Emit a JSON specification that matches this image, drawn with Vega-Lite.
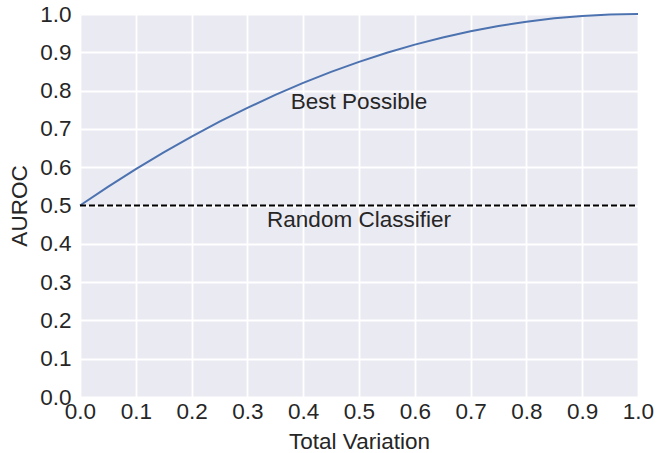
{
  "$schema": "https://vega.github.io/schema/vega-lite/v6.json",
  "width": 558,
  "height": 383,
  "autosize": {"type": "none"},
  "padding": {"left": 80, "top": 14, "right": 31, "bottom": 56},
  "background": "white",
  "config": {
    "view": {"fill": "#EAEAF2", "stroke": null},
    "font": "Liberation Sans",
    "axis": {
      "domain": false,
      "ticks": false,
      "grid": true,
      "gridColor": "white",
      "gridWidth": 1.8,
      "labelFont": "Liberation Sans",
      "labelFontSize": 22.5,
      "labelColor": "#262626",
      "labelOverlap": false,
      "titleFont": "Liberation Sans",
      "titleFontSize": 22.5,
      "titleFontWeight": "normal",
      "titleColor": "#262626"
    }
  },
  "datasets": {
    "curve": [
      {"tv": 0.0, "auroc": 0.5},
      {"tv": 0.05, "auroc": 0.54875},
      {"tv": 0.1, "auroc": 0.595},
      {"tv": 0.15, "auroc": 0.63875},
      {"tv": 0.2, "auroc": 0.68},
      {"tv": 0.25, "auroc": 0.71875},
      {"tv": 0.3, "auroc": 0.755},
      {"tv": 0.35, "auroc": 0.78875},
      {"tv": 0.4, "auroc": 0.82},
      {"tv": 0.45, "auroc": 0.84875},
      {"tv": 0.5, "auroc": 0.875},
      {"tv": 0.55, "auroc": 0.89875},
      {"tv": 0.6, "auroc": 0.92},
      {"tv": 0.65, "auroc": 0.93875},
      {"tv": 0.7, "auroc": 0.955},
      {"tv": 0.75, "auroc": 0.96875},
      {"tv": 0.8, "auroc": 0.98},
      {"tv": 0.85, "auroc": 0.98875},
      {"tv": 0.9, "auroc": 0.995},
      {"tv": 0.95, "auroc": 0.99875},
      {"tv": 1.0, "auroc": 1.0}
    ],
    "random": [
      {"tv": 0.0, "auroc": 0.5},
      {"tv": 1.0, "auroc": 0.5}
    ],
    "labels": [
      {"tv": 0.5, "auroc": 0.77, "text": "Best Possible"},
      {"tv": 0.5, "auroc": 0.462, "text": "Random Classifier"}
    ]
  },
  "encoding": {
    "x": {
      "field": "tv", "type": "quantitative",
      "scale": {"domain": [0, 1], "nice": false},
      "axis": {"title": "Total Variation", "values": [0, 0.1, 0.2, 0.3, 0.4, 0.5, 0.6, 0.7, 0.8, 0.9, 1.0], "tickCount": 11, "format": ".1f", "labelPadding": 3, "titlePadding": 8, "labelFlush": false, "labelOverlap": false}
    },
    "y": {
      "field": "auroc", "type": "quantitative",
      "scale": {"domain": [0, 1], "nice": false},
      "axis": {"title": "AUROC", "values": [0, 0.1, 0.2, 0.3, 0.4, 0.5, 0.6, 0.7, 0.8, 0.9, 1.0], "tickCount": 11, "format": ".1f", "labelPadding": 9, "titlePadding": 8, "labelFlush": false, "labelOverlap": false}
    }
  },
  "layer": [
    {
      "data": {"name": "curve"},
      "mark": {"type": "line", "color": "#4C72B0", "strokeWidth": 2, "clip": false}
    },
    {
      "data": {"name": "random"},
      "mark": {"type": "line", "color": "black", "strokeWidth": 1.8, "strokeDash": [6, 3]}
    },
    {
      "data": {"name": "labels"},
      "mark": {"type": "text", "fontSize": 22.5, "color": "#262626", "align": "center", "baseline": "middle", "font": "Liberation Sans"},
      "encoding": {
        "text": {"field": "text"}
      }
    }
  ]
}
